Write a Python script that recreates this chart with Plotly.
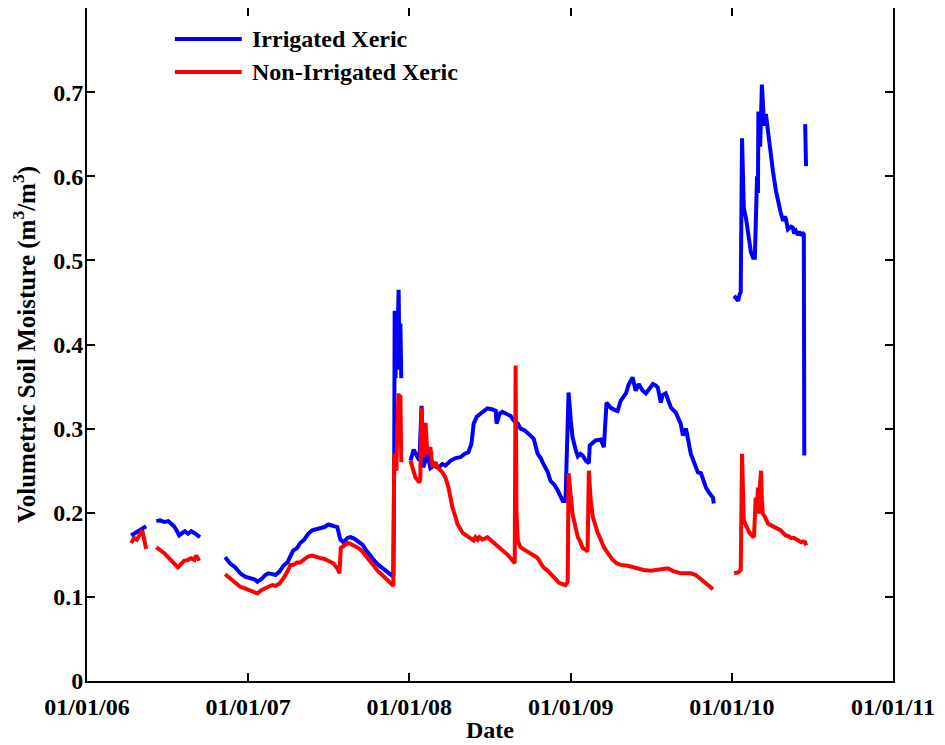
import datetime as dt
import plotly.graph_objects as go

# Day offsets since 2006-01-01 (None = data gap) and volumetric soil moisture (m3/m3)
irrigated_days = [
    100, 109, 116, 125, 134, None,
    157, 166, 175, 184, 191, 197, 204, 209, 216, 222, 229, 236, 243, 250, 256, None,
    313, 324, 336, 347, 358, 370, 379, 386, 395, 404, 411, 420, 427, 436, 445, 454, 461, 467,
    476, 483, 492, 501, 510, 520, 529, 538, 547, 558, 567, 574, 581, 590, 597, 606, 615, 624,
    633, 642, 651, 660, 669, 678, 687, 694, 696, 697, 699, 701, 703, 706, 708, 710, 712, None,
    733, 740, 749, 753, 758, 762, 771, 778, 787, 796, 805, 812, 824, 835, 846, 855, 864, 871,
    876, 883, 892, 901, 907, 917, 926, 928, 935, 941, 951, 960, 966, 976, 982, 991, 1000, 1012,
    1021, 1028, 1034, 1044, 1050, 1059, 1066, 1073, 1078, 1084, 1087, 1091, 1096, 1100, 1107,
    1112, 1118, 1123, 1130, 1137, 1139, 1146, 1152, 1164, 1171, 1177, 1186, 1196, 1202, 1209,
    1221, 1227, 1236, 1243, 1250, 1259, 1266, 1275, 1282, 1289, 1293, 1300, 1304, 1311, 1323,
    1334, 1345, 1350, 1357, 1368, 1377, 1384, 1391, 1402, 1409, 1418, 1420, None,
    1466, 1470, 1475, 1479, 1481, 1484, 1486, 1488, 1493, 1500, 1504, 1509, 1513, 1518, 1520,
    1521, 1525, 1527, 1529, 1531, 1534, 1538, 1545, 1550, 1554, 1561, 1568, 1572, 1577, 1581,
    1583, 1588, 1595, 1599, 1602, 1606, 1611, 1613, 1618, 1622, 1624, 1625, None,
    1627, 1629,
]
irrigated_vals = [
    .173, .176, .178, .181, .184, None,
    .190, .191, .189, .190, .187, .184, .178, .173, .176, .178, .175, .178, .176, .173, .171, None,
    .147, .140, .135, .128, .124, .122, .121, .118, .121, .126, .128, .127, .126, .130, .137, .141, .150, .155,
    .158, .164, .168, .175, .179, .180, .181, .183, .186, .185, .183, .168, .165, .170, .171, .169, .166, .162,
    .155, .148, .143, .138, .134, .130, .127, .124, .26, .44, .36, .44, .40, .465, .37, .425, .36, None,
    .262, .275, .266, .262, .327, .254, .270, .253, .256, .253, .258, .256, .262, .265, .266, .270, .272, .282,
    .306, .314, .318, .322, .324, .323, .321, .306, .318, .320, .318, .315, .310, .306, .300, .298, .294, .288,
    .270, .265, .258, .248, .238, .233, .227, .220, .214, .214, .274, .343, .310, .290, .275,
    .267, .270, .268, .262, .259, .280, .283, .286, .287, .278, .331, .325, .322, .321, .333,
    .342, .352, .361, .345, .353, .345, .342, .348, .353, .351, .349, .331, .340, .342, .325,
    .319, .306, .292, .300, .270, .258, .248, .247, .230, .224, .218, .211, None,
    .458, .455, .452, .460, .462, .645, .600, .562, .550, .523, .510, .503, .503, .600, .580,
    .677, .635, .670, .709, .690, .660, .674, .642, .625, .606, .582, .562, .556, .547, .552,
    .550, .537, .540, .539, .532, .535, .530, .534, .531, .532, .531, .268, None,
    .662, .612,
]

non_irrigated_days = [
    100, 107, 113, 120, 125, 129, 134, None,
    157, 166, 175, 184, 193, 200, 206, 213, 220, 229, 236, 243, 247, 252, 256, None,
    313, 324, 336, 347, 358, 370, 379, 386, 395, 404, 411, 420, 427, 436, 445, 454, 461, 467,
    476, 483, 492, 501, 510, 520, 529, 538, 547, 558, 567, 572, 575, 581, 590, 597, 606, 615,
    624, 633, 642, 651, 660, 669, 678, 687, 692, 694, 696, 697, 699, 701, 703, 706, 708, 710, 712, None,
    733, 740, 744, 753, 755, 758, 760, 762, 767, 771, 778, 783, 789, 796, 805, 812, 819, 828,
    835, 839, 851, 864, 876, 880, 885, 889, 896, 907, 914, 921, 930, 937, 946, 953, 960, 966,
    969, 971, 973, 976, 982, 994, 1005, 1016, 1021, 1028, 1034, 1044, 1050, 1062, 1069, 1078,
    1084, 1089, 1091, 1096, 1100, 1107, 1112, 1118, 1123, 1130, 1134, 1137, 1141, 1146, 1152,
    1157, 1164, 1171, 1180, 1191, 1200, 1209, 1225, 1239, 1250, 1261, 1277, 1293, 1304, 1316,
    1327, 1336, 1345, 1357, 1368, 1379, 1391, 1400, 1407, 1413, 1418, None,
    1466, 1475, 1481, 1484, 1486, 1488, 1493, 1500, 1506, 1511, 1515, 1518, 1520, 1522, 1525,
    1527, 1529, 1531, 1536, 1543, 1550, 1556, 1563, 1572, 1579, 1583, 1590, 1595, 1602, 1608,
    1618, 1622, 1627, 1629,
]
non_irrigated_vals = [
    .164, .170, .168, .176, .179, .170, .157, None,
    .159, .156, .152, .147, .142, .138, .135, .139, .143, .144, .146, .144, .149, .145, .146, None,
    .127, .122, .116, .112, .110, .107, .105, .104, .108, .111, .112, .114, .113, .116, .122, .130, .138, .138,
    .141, .141, .144, .148, .149, .147, .146, .145, .143, .140, .134, .128, .158, .160, .164, .163, .161, .158,
    .154, .148, .142, .137, .130, .126, .121, .117, .114, .113, .27, .25, .26, .25, .30, .342, .30, .34, .26, None,
    .262, .250, .242, .236, .240, .325, .290, .266, .307, .270, .278, .254, .260, .253, .248, .242, .230, .206,
    .195, .187, .176, .171, .167, .171, .168, .171, .168, .171, .168, .164, .161, .158, .154, .150, .146, .141,
    .140, .375, .20, .167, .159, .155, .152, .148, .146, .141, .135, .131, .128, .121, .117, .115,
    .114, .118, .247, .220, .199, .182, .171, .165, .158, .156, .154, .250, .215, .195, .184,
    .176, .168, .159, .152, .144, .140, .138, .137, .135, .134, .132, .131, .132, .133, .134,
    .131, .130, .128, .128, .128, .126, .120, .117, .114, .112, .109, None,
    .128, .129, .132, .270, .230, .191, .185, .177, .173, .171, .218, .205, .230, .199, .236,
    .250, .215, .199, .195, .187, .185, .183, .181, .179, .175, .173, .172, .170, .170, .168,
    .165, .166, .165, .161,
]

series_names = ["Irrigated Xeric", "Non-Irrigated Xeric"]
series_colors = ["#0000FF", "#FF0000"]

year_ticks = ["2006-01-01", "2007-01-01", "2008-01-01", "2009-01-01", "2010-01-01", "2011-01-01"]
year_labels = ["01/01/06", "01/01/07", "01/01/08", "01/01/09", "01/01/10", "01/01/11"]
y_ticks = [0, 0.1, 0.2, 0.3, 0.4, 0.5, 0.6, 0.7]
y_labels = ["0", "0.1", "0.2", "0.3", "0.4", "0.5", "0.6", "0.7"]

start = dt.datetime(2006, 1, 1)


def to_dates(days):
    return [start + dt.timedelta(days=d) if d is not None else None for d in days]


FAMILY = "Liberation Serif, Times New Roman, serif"
FONT = dict(family=FAMILY, size=24, color="black", weight="bold")

fig = go.Figure()
for days, vals, name, color in [(irrigated_days, irrigated_vals, series_names[0], series_colors[0]),
                                (non_irrigated_days, non_irrigated_vals, series_names[1], series_colors[1])]:
    fig.add_trace(go.Scatter(x=to_dates(days), y=vals, mode="lines", name=name,
                             line=dict(color=color, width=4), showlegend=False))

axis_common = dict(showline=True, linecolor="black", linewidth=2, mirror="ticks",
                   ticks="inside", ticklen=8, tickwidth=2, tickcolor="black",
                   showgrid=False, zeroline=False, tickfont=FONT, automargin=False)

fig.update_xaxes(type="date", range=["2006-01-01", "2011-01-01"], tickvals=year_ticks,
                 ticktext=year_labels, ticklabelstandoff=3,
                 title=dict(text="Date", font=FONT, standoff=2), **axis_common)
fig.update_yaxes(range=[0, 0.8], tickvals=y_ticks, ticktext=y_labels, ticklabelstandoff=-3,
                 title=dict(text="Volumetric Soil Moisture (m<sup>3</sup>/m<sup>3</sup>)",
                            font=dict(FONT, size=25), standoff=11), **axis_common)

# Legend drawn as line samples + labels (long sample lines as in the reference)
legend_rows_y = [0.954, 0.905]
for name, color, ly in zip(series_names, series_colors, legend_rows_y):
    fig.add_shape(type="line", xref="paper", yref="paper", x0=0.109, x1=0.192, y0=ly, y1=ly,
                  line=dict(color=color, width=4))
    fig.add_annotation(xref="paper", yref="paper", x=0.202, y=ly, text=name, showarrow=False,
                       xanchor="left", yanchor="middle", font=FONT)

fig.update_layout(
    width=937, height=737,
    margin=dict(l=79, r=52, t=0, b=64),
    plot_bgcolor="white", paper_bgcolor="white",
    font=FONT,
    showlegend=False,
)

fig.write_html("out.html")
